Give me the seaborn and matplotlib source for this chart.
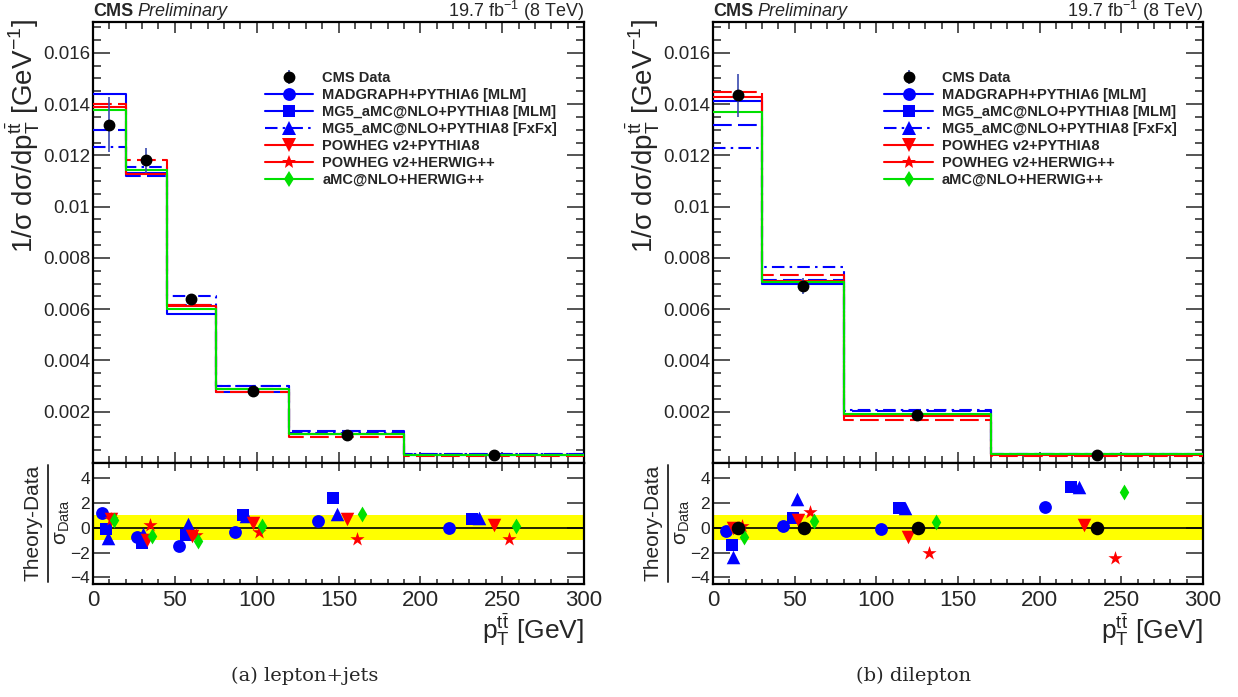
import numpy as np
import matplotlib
matplotlib.use("Agg")
import matplotlib.pyplot as plt
from matplotlib.lines import Line2D
from matplotlib.ticker import MultipleLocator, FixedLocator, FuncFormatter
import seaborn as sns

# ---------------------------------------------------------------- data
# lepton+jets: normalised differential cross section vs pT(ttbar)
lj_edges = [0, 20, 45, 75, 120, 190, 300]
lj_data = [0.01320, 0.01180, 0.00638, 0.00282, 0.00108, 0.00032]
lj_data_err = [0.00107, 0.00050, 0.00022, 0.00009, 0.00004, 0.00002]
lj_madgraph = [0.01438, 0.01130, 0.00583, 0.00275, 0.00112, 0.00031]
lj_mg5_mlm = [0.01298, 0.01118, 0.00617, 0.00302, 0.00124, 0.00035]
lj_mg5_fxfx = [0.01232, 0.01154, 0.00651, 0.00300, 0.00116, 0.00036]
lj_powheg_p8 = [0.01390, 0.01126, 0.00612, 0.00287, 0.00113, 0.00032]
lj_powheg_hw = [0.01400, 0.01181, 0.00617, 0.00275, 0.00102, 0.00027]
lj_amc_hw = [0.01376, 0.01141, 0.00599, 0.00287, 0.00114, 0.00033]

# dilepton
dl_edges = [0, 30, 80, 170, 300]
dl_data = [0.01434, 0.00691, 0.00188, 0.00031]
dl_data_err = [0.00085, 0.00032, 0.00010, 0.00002]
dl_madgraph = [0.01413, 0.00697, 0.00187, 0.00034]
dl_mg5_mlm = [0.01318, 0.00715, 0.00204, 0.00036]
dl_mg5_fxfx = [0.01230, 0.00766, 0.00205, 0.00036]
dl_powheg_p8 = [0.01428, 0.00711, 0.00182, 0.00031]
dl_powheg_hw = [0.01446, 0.00734, 0.00168, 0.00027]
dl_amc_hw = [0.01368, 0.00705, 0.00193, 0.00035]

# (theory - data) / sigma_data, with the x at which each marker is drawn
lj_pull_x_madgraph = [5.5, 26.7, 52.7, 86.6, 137.6, 217.5]
lj_pull_madgraph = [1.19, -0.71, -1.49, -0.35, 0.57, 0.00]
lj_pull_x_mg5_mlm = [7.7, 29.7, 56.8, 91.8, 146.6, 231.3]
lj_pull_mg5_mlm = [-0.11, -1.19, -0.60, 1.06, 2.38, 0.70]
lj_pull_x_mg5_fxfx = [9.0, 30.7, 57.8, 93.3, 149.2, 235.8]
lj_pull_mg5_fxfx = [-0.79, -0.49, 0.30, 0.92, 1.14, 0.76]
lj_pull_x_powheg_p8 = [10.8, 32.8, 60.3, 97.7, 155.2, 245.0]
lj_pull_powheg_p8 = [0.70, -0.98, -0.70, 0.38, 0.73, 0.24]
lj_pull_x_powheg_hw = [11.0, 34.8, 62.9, 101.6, 161.1, 254.3]
lj_pull_powheg_hw = [0.72, 0.19, -0.57, -0.35, -0.87, -0.87]
lj_pull_x_amc_hw = [12.8, 36.0, 64.0, 103.4, 164.1, 258.6]
lj_pull_amc_hw = [0.60, -0.65, -1.08, 0.11, 1.11, 0.11]

dl_pull_x_data = [15.5, 55.5, 125.3, 235.1]
dl_pull_data = [0.0, 0.0, 0.0, 0.0]
dl_pull_x_madgraph = [7.8, 42.9, 102.7, 203.1]
dl_pull_madgraph = [-0.22, 0.13, -0.08, 1.65]
dl_pull_x_mg5_mlm = [11.6, 49.0, 114.1, 219.0]
dl_pull_mg5_mlm = [-1.36, 0.78, 1.57, 3.33]
dl_pull_x_mg5_fxfx = [12.4, 51.2, 117.6, 224.3]
dl_pull_mg5_fxfx = [-2.39, 2.30, 1.57, 3.33]
dl_pull_x_powheg_p8 = [12.4, 52.0, 119.6, 227.2]
dl_pull_powheg_p8 = [-0.05, 0.67, -0.73, 0.24]
dl_pull_x_powheg_hw = [17.6, 59.6, 132.5, 246.2]
dl_pull_powheg_hw = [0.13, 1.30, -2.03, -2.44]
dl_pull_x_amc_hw = [19.0, 61.7, 136.6, 251.7]
dl_pull_amc_hw = [-0.76, 0.54, 0.51, 2.93]

labels = ["MADGRAPH+PYTHIA6 [MLM]", "MG5_aMC@NLO+PYTHIA8 [MLM]",
          "MG5_aMC@NLO+PYTHIA8 [FxFx]", "POWHEG v2+PYTHIA8",
          "POWHEG v2+HERWIG++", "aMC@NLO+HERWIG++"]

# ---------------------------------------------------------------- style
sns.set_theme(style="ticks")
plt.rcParams["font.family"] = ["Liberation Sans", "DejaVu Sans"]
plt.rcParams["mathtext.fontset"] = "custom"
plt.rcParams["mathtext.rm"] = "Liberation Sans"
plt.rcParams["mathtext.it"] = "Liberation Sans:italic"
plt.rcParams["mathtext.bf"] = "Liberation Sans:bold"
plt.rcParams["axes.unicode_minus"] = True

BLUE, RED, GREEN = "#0000ff", "#ff0000", "#00e000"
styles = [
    dict(color=BLUE, ls="-", marker="o", s=85),
    dict(color=BLUE, ls=(0, (9, 3)), marker="s", s=80),
    dict(color=BLUE, ls=(0, (6, 2.5, 1.2, 2.5)), marker="^", s=95),
    dict(color=RED, ls="-", marker="v", s=95),
    dict(color=RED, ls=(0, (9, 3)), marker="*", s=115),
    dict(color=GREEN, ls="-", marker="d", s=65),
]
legend_ls = ["-", "-", (0, (6, 2.5, 1.2, 2.5)), "-", "-", "-"]

W, H = 1238, 697
fig = plt.figure(figsize=(W / 100, H / 100), dpi=100)


def box(x0, y0, x1, y1):
    return [x0 / W, 1 - y1 / H, (x1 - x0) / W, (y1 - y0) / H]


def style_frame(ax):
    for sp in ax.spines.values():
        sp.set_linewidth(1.6)
        sp.set_color("black")


def y_fmt(v, _):
    if abs(v) < 1e-9:
        return ""
    return "%g" % round(v, 4)


def draw_panel(x0, x1, edges, data, err, models, pulls, pull_data, tag, tag_x):
    ax = fig.add_axes(box(x0, 22, x1, 463))
    rx = fig.add_axes(box(x0, 463, x1, 584), sharex=ax)
    for a in (ax, rx):
        style_frame(a)

    # model histograms
    for vals, st in zip(models, styles):
        ys = np.append(vals, vals[-1])
        sns.lineplot(x=np.asarray(edges, float), y=ys, ax=ax, color=st["color"],
                     linestyle=st["ls"], linewidth=1.5, drawstyle="steps-post",
                     errorbar=None, legend=False, zorder=3)
    centers = 0.5 * (np.asarray(edges[:-1], float) + np.asarray(edges[1:], float))
    data_h = ax.errorbar(centers, data, yerr=err, fmt="o", color="black",
                         ecolor="#3a4ab0", elinewidth=1.2, markersize=7.5,
                         capsize=0, zorder=5)

    ax.set_xlim(0, 300)
    ax.set_ylim(0, 0.0172)
    ax.set_xlabel("")
    ax.set_ylabel("")
    ax.xaxis.set_major_locator(MultipleLocator(50))
    ax.xaxis.set_minor_locator(MultipleLocator(10))
    ax.yaxis.set_major_locator(MultipleLocator(0.002))
    ax.yaxis.set_minor_locator(MultipleLocator(0.0005))
    ax.yaxis.set_major_formatter(FuncFormatter(y_fmt))
    ax.tick_params(axis="x", which="both", direction="in", top=True,
                   bottom=True, labelbottom=False, width=1.1)
    ax.tick_params(axis="x", which="major", length=8)
    ax.tick_params(axis="x", which="minor", length=5)
    ax.tick_params(axis="y", which="both", direction="in", left=True,
                   right=True, width=1.1, labelsize=13.5, pad=2)
    ax.tick_params(axis="y", which="major", length=12)
    ax.tick_params(axis="y", which="minor", length=6)

    # legend
    handles = [data_h]
    for st, lls in zip(styles, legend_ls):
        handles.append(Line2D([0], [0], color=st["color"], ls=lls, lw=1.5,
                              marker=st["marker"], markersize=np.sqrt(st["s"]),
                              markeredgewidth=0))
    ax.legend(handles, ["CMS Data"] + labels, loc="upper left",
              bbox_to_anchor=(0.335, 0.905), frameon=False, borderpad=0,
              handlelength=3.3, handletextpad=0.65, labelspacing=0.2,
              prop=dict(weight="bold", size=10.5))

    # pull panel
    rx.axhspan(-1, 1, color="#ffff00", lw=0, zorder=0)
    rx.axhline(0, color="black", lw=1.2, zorder=1)
    for (px, py), st in zip(pulls, styles):
        sns.scatterplot(x=px, y=py, ax=rx, color=st["color"], marker=st["marker"],
                        s=st["s"], linewidth=0, legend=False, zorder=4)
    if pull_data is not None:
        sns.scatterplot(x=pull_data[0], y=pull_data[1], ax=rx, color="black",
                        marker="o", s=95, linewidth=0, legend=False, zorder=5)
    rx.set_xlim(0, 300)
    rx.set_ylim(-4.55, 5.25)
    rx.set_xlabel("")
    rx.set_ylabel("")
    rx.yaxis.set_major_locator(FixedLocator([-4, -2, 0, 2, 4]))
    rx.yaxis.set_minor_locator(FixedLocator([]))
    rx.xaxis.set_major_locator(MultipleLocator(50))
    rx.xaxis.set_minor_locator(MultipleLocator(10))
    rx.xaxis.set_major_formatter(FuncFormatter(lambda v, _: "%d" % v))
    rx.tick_params(axis="x", which="both", direction="in", top=True, bottom=True,
                   width=1.1, labelsize=16, pad=4)
    rx.tick_params(axis="x", which="major", length=6)
    rx.tick_params(axis="x", which="minor", length=3.5)
    rx.tick_params(axis="y", which="major", direction="in", left=True, right=True,
                   width=1.1, length=12, labelsize=12.5, pad=2)

    # header
    fig.text(x0 / W, 1 - 11 / H, "CMS", fontsize=13, fontweight="bold",
             ha="left", va="center")
    fig.text((x0 + 44) / W, 1 - 11 / H, "Preliminary", fontsize=13,
             style="italic", ha="left", va="center")
    fig.text(x1 / W, 1 - 11 / H, r"19.7 fb$^{-1}$ (8 TeV)", fontsize=13,
             ha="right", va="center")

    # axis titles
    fig.text((x0 - 70) / W, 1 - 19 / H,
             r"1/σ dσ/dp$_{\mathrm{T}}^{\mathrm{t\bar{t}}}$ [GeV$^{-1}$]",
             rotation=90, fontsize=20, ha="center", va="top")
    fig.text((x0 - 60) / W, 1 - 523 / H, "Theory-Data", rotation=90,
             fontsize=15, ha="center", va="center")
    fig.add_artist(Line2D([(x0 - 45) / W] * 2, [1 - 465 / H, 1 - 582 / H],
                          color="#333333", lw=1.4))
    fig.text((x0 - 31) / W, 1 - 522 / H, r"σ$_{\mathrm{Data}}$", rotation=90,
             fontsize=15, ha="center", va="center")
    fig.text(x1 / W, 1 - 630 / H, r"p$_{\mathrm{T}}^{\mathrm{t\bar{t}}}$ [GeV]",
             fontsize=19, ha="right", va="center")

    # caption
    fig.text(tag_x / W, 1 - 676 / H, tag,
             family=["DejaVu Serif"], fontsize=14,
             ha="center", va="center")


lj_models = [lj_madgraph, lj_mg5_mlm, lj_mg5_fxfx, lj_powheg_p8, lj_powheg_hw, lj_amc_hw]
lj_pulls = [(lj_pull_x_madgraph, lj_pull_madgraph), (lj_pull_x_mg5_mlm, lj_pull_mg5_mlm),
            (lj_pull_x_mg5_fxfx, lj_pull_mg5_fxfx), (lj_pull_x_powheg_p8, lj_pull_powheg_p8),
            (lj_pull_x_powheg_hw, lj_pull_powheg_hw), (lj_pull_x_amc_hw, lj_pull_amc_hw)]
dl_models = [dl_madgraph, dl_mg5_mlm, dl_mg5_fxfx, dl_powheg_p8, dl_powheg_hw, dl_amc_hw]
dl_pulls = [(dl_pull_x_madgraph, dl_pull_madgraph), (dl_pull_x_mg5_mlm, dl_pull_mg5_mlm),
            (dl_pull_x_mg5_fxfx, dl_pull_mg5_fxfx), (dl_pull_x_powheg_p8, dl_pull_powheg_p8),
            (dl_pull_x_powheg_hw, dl_pull_powheg_hw), (dl_pull_x_amc_hw, dl_pull_amc_hw)]

draw_panel(93, 584, lj_edges, lj_data, lj_data_err, lj_models, lj_pulls, None,
           "(a) lepton+jets", 305)
draw_panel(713, 1203, dl_edges, dl_data, dl_data_err, dl_models, dl_pulls,
           (dl_pull_x_data, dl_pull_data), "(b) dilepton", 914)

fig.savefig("out.png", dpi=100)
